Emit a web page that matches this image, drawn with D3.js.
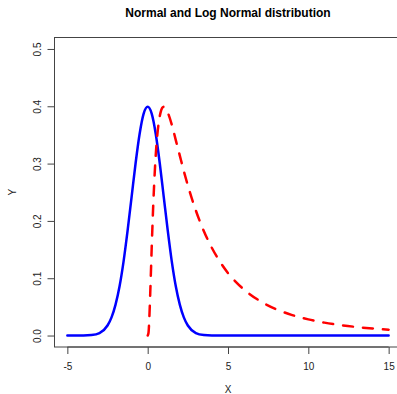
<!DOCTYPE html>
<html>
<head>
<meta charset="utf-8">
<script src="https://cdn.jsdelivr.net/npm/d3@7"></script>
<style>
  body { margin: 0; background: #fff; }
  svg { display: block; font-family: "Liberation Sans", Arial, sans-serif; }
</style>
</head>
<body>
<div id="chart"></div>
<script>
// values
const normalX = [-5, -4, -3.5, -3, -2.5, -2.25, -2, -1.75, -1.5, -1.25, -1, -0.75, -0.5, -0.25, 0,
                 0.25, 0.5, 0.75, 1, 1.25, 1.5, 1.75, 2, 2.25, 2.5, 3, 3.5, 4, 5, 10, 15];
const normalY = [0, 0.0001, 0.0009, 0.0044, 0.0175, 0.0317, 0.054, 0.086, 0.1295, 0.183, 0.242, 0.301, 0.352, 0.387, 0.399,
                 0.387, 0.352, 0.301, 0.242, 0.183, 0.1295, 0.086, 0.054, 0.0317, 0.0175, 0.0044, 0.0009, 0.0001, 0, 0, 0];

const logX = [0, 0.05, 0.1, 0.15, 0.2, 0.25, 0.3, 0.35, 0.4, 0.45, 0.5, 0.55, 0.6, 0.7, 0.8, 0.9, 1,
              1.1, 1.25, 1.5, 1.75, 2, 2.25, 2.5, 3, 3.5, 4, 4.5, 5, 5.5, 6, 7, 8, 9, 10, 11, 12, 13, 14, 15];
const logY = [0, 0.0045, 0.0282, 0.066, 0.109, 0.1527, 0.193, 0.230, 0.262, 0.290, 0.314, 0.334, 0.350, 0.374, 0.389, 0.397, 0.399,
              0.397, 0.389, 0.368, 0.341, 0.314, 0.287, 0.262, 0.218, 0.182, 0.1527, 0.1288, 0.109, 0.0933, 0.0801, 0.0601, 0.0459, 0.0357, 0.0282, 0.0225, 0.0182, 0.0149, 0.0123, 0.0102];

const xTicks = [-5, 0, 5, 10, 15];
const yTicks = [0, 0.1, 0.2, 0.3, 0.4, 0.5];

const width = 397, height = 394;
const plot = { left: 54.5, right: 401.5, top: 37.5, bottom: 347 };

const svg = d3.select("#chart").append("svg")
    .attr("width", width)
    .attr("height", height);

const x = d3.scaleLinear().domain([-5.8, 15.8]).range([plot.left, plot.right]);
const y = d3.scaleLinear().domain([-0.02, 0.52]).range([plot.bottom, plot.top]);

svg.append("defs").append("clipPath").attr("id", "clip")
  .append("rect")
    .attr("x", plot.left).attr("y", plot.top)
    .attr("width", plot.right - plot.left).attr("height", plot.bottom - plot.top);

const line = d3.line()
    .x(d => x(d[0]))
    .y(d => y(d[1]))
    .curve(d3.curveMonotoneX);

const lines = svg.append("g").attr("clip-path", "url(#clip)");

lines.append("path")
    .datum(normalX.map((v, i) => [v, normalY[i]]))
    .attr("d", line)
    .attr("fill", "none")
    .attr("stroke", "#0000ff")
    .attr("stroke-width", 2.5)
    .attr("stroke-linejoin", "round")
    .attr("stroke-linecap", "round");

lines.append("path")
    .datum(logX.map((v, i) => [v, logY[i]]))
    .attr("d", line)
    .attr("fill", "none")
    .attr("stroke", "#ff0000")
    .attr("stroke-width", 2.5)
    .attr("stroke-dasharray", "10,10")
    .attr("stroke-linejoin", "round")
    .attr("stroke-linecap", "round");

// box
svg.append("rect")
    .attr("x", plot.left).attr("y", plot.top)
    .attr("width", plot.right - plot.left).attr("height", plot.bottom - plot.top)
    .attr("fill", "none")
    .attr("stroke", "#444")
    .attr("stroke-width", 1);

// x axis
const xAxis = svg.append("g")
    .attr("transform", "translate(0," + plot.bottom + ")")
    .call(d3.axisBottom(x).tickValues(xTicks).tickSize(7).tickPadding(0));
xAxis.select(".domain")
    .attr("d", "M" + x(-5) + ",0H" + x(15))
    .attr("stroke", "#444");
xAxis.selectAll(".tick line").attr("stroke", "#444");
xAxis.selectAll(".tick text")
    .attr("y", 23)
    .attr("dy", null)
    .attr("fill", "#222")
    .style("font-size", "10px")
    .text(d => d < 0 ? "-" + Math.abs(d) : d);

// y axis
const yAxis = svg.append("g")
    .attr("transform", "translate(" + plot.left + ",0)")
    .call(d3.axisLeft(y).tickValues(yTicks).tickSize(7).tickFormat(d3.format(".1f")));
yAxis.select(".domain")
    .attr("d", "M0," + y(0) + "V" + y(0.5))
    .attr("stroke", "#444");
yAxis.selectAll(".tick line").attr("stroke", "#444");
yAxis.selectAll(".tick text")
    .attr("x", null)
    .attr("dy", null)
    .attr("transform", "translate(-13.5,0) rotate(-90)")
    .attr("text-anchor", "middle")
    .attr("fill", "#222")
    .style("font-size", "10px");

// titles
svg.append("text")
    .attr("x", (plot.left + plot.right) / 2)
    .attr("y", 17)
    .attr("text-anchor", "middle")
    .style("font-size", "12px")
    .style("font-weight", "bold")
    .text("Normal and Log Normal distribution");

svg.append("text")
    .attr("x", (plot.left + plot.right) / 2)
    .attr("y", 393)
    .attr("text-anchor", "middle")
    .attr("fill", "#222")
    .style("font-size", "10px")
    .text("X");

svg.append("text")
    .attr("transform", "translate(16," + (plot.top + plot.bottom) / 2 + ") rotate(-90)")
    .attr("text-anchor", "middle")
    .attr("fill", "#222")
    .style("font-size", "10px")
    .text("Y");
</script>
</body>
</html>
